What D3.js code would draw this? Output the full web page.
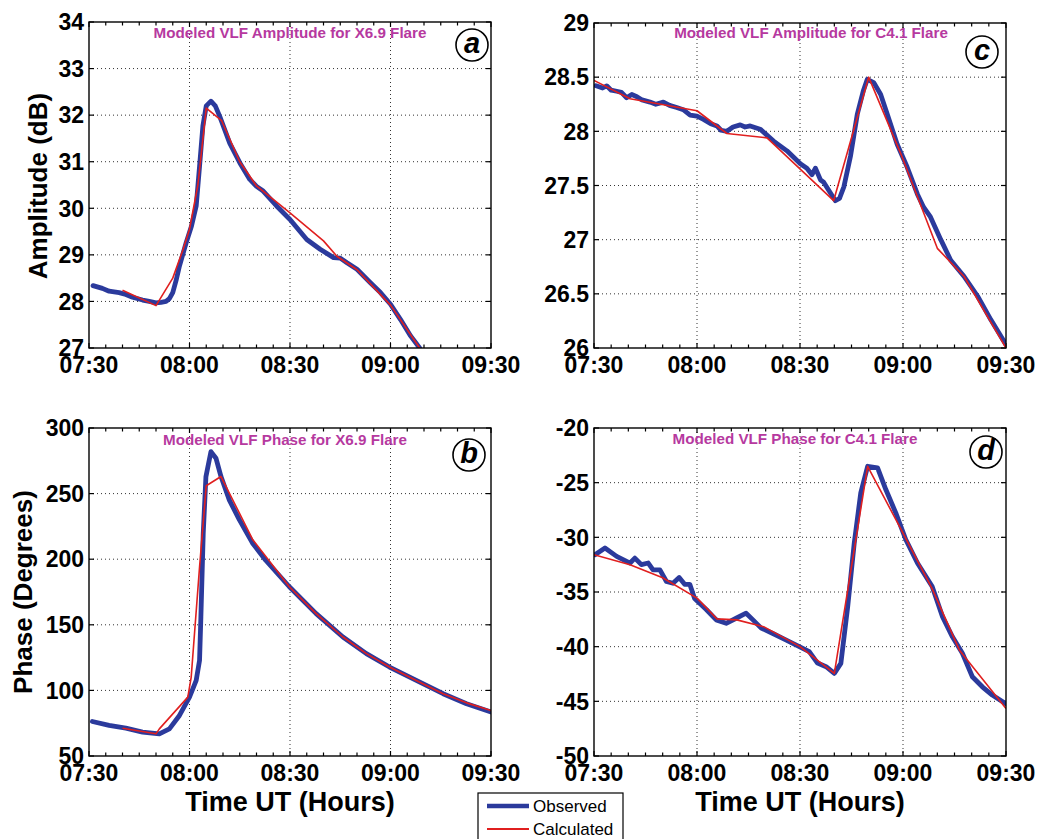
<!DOCTYPE html>
<html><head><meta charset="utf-8">
<script src="https://cdn.jsdelivr.net/npm/d3@7"></script>
<style>
html,body{margin:0;padding:0;background:#fff;}
svg{display:block;}
text{font-family:"Liberation Sans",Arial,sans-serif;}
</style></head>
<body><svg id="chart" width="1050" height="839"></svg>
<script>
// ---- Data (time in minutes after 07:30 UT) ----
const xTickValues = [0, 30, 60, 90, 120];
const xTickLabels = ["07:30", "08:00", "08:30", "09:00", "09:30"];

const ampXTicks = [27, 28, 29, 30, 31, 32, 33, 34];
const ampXTickLabels = ["27", "28", "29", "30", "31", "32", "33", "34"];
const phaseXTicks = [50, 100, 150, 200, 250, 300];
const phaseXTickLabels = ["50", "100", "150", "200", "250", "300"];
const ampCTicks = [26, 26.5, 27, 27.5, 28, 28.5, 29];
const ampCTickLabels = ["26", "26.5", "27", "27.5", "28", "28.5", "29"];
const phaseCTicks = [-50, -45, -40, -35, -30, -25, -20];
const phaseCTickLabels = ["-50", "-45", "-40", "-35", "-30", "-25", "-20"];

const obsAmpX = [[1.2,28.34],[4,28.28],[6,28.22],[8,28.2],[9,28.19],[11,28.15],[13,28.09],[16,28.03],[18,28.0],[20,27.97],[21.5,27.98],[23,28.0],[24,28.06],[25,28.19],[26,28.45],[27,28.76],[29,29.26],[30.6,29.62],[32,30.05],[33,30.9],[34,31.77],[35,32.2],[36.4,32.3],[37.7,32.2],[39,31.98],[42,31.4],[45,30.98],[48,30.62],[50,30.47],[52,30.37],[56,30.05],[60,29.76],[65,29.33],[69,29.12],[73,28.94],[75,28.93],[77,28.83],[80,28.69],[84,28.4],[87,28.19],[90,27.94],[93,27.61],[96,27.26],[98.7,27.0]];
const calcAmpX = [[10,28.24],[20,27.91],[25,28.5],[28,29.1],[30,29.55],[32.5,30.5],[35,32.15],[39.6,31.88],[45,31.0],[50,30.48],[60,29.9],[70,29.3],[74,28.97],[80,28.68],[90,27.92],[98.7,27.0]];

const obsPhaseX = [[1,76.3],[6,73.3],[11,71.2],[16,68.2],[21,66.9],[24,70.7],[27,80.9],[30,94.9],[32,107.6],[33,122.9],[33.4,156],[34.1,219.6],[34.9,262.8],[36.4,282],[37.9,277],[39.4,263],[41.9,245],[44.9,230],[48.9,212],[52.8,199],[59.8,179],[67.8,158.5],[75.8,140.7],[82.8,128],[89.7,117.8],[97.7,107.6],[105.7,97.5],[112.7,89.8],[120,83.5]];
const calcPhaseX = [[10,71.2],[20,66.9],[21,70.7],[29.5,94.9],[30.5,110],[33,194],[35,256],[39.4,263],[48.9,214.8],[59.8,179],[67.8,158.5],[75.8,140.7],[82.8,128],[89.7,117.8],[97.7,107.6],[105.7,97.5],[112.7,90.5],[120,84.7]];

const obsAmpC = [[0.6,28.42],[2.5,28.4],[3.7,28.42],[5,28.38],[6.6,28.37],[8,28.36],[9.5,28.31],[11,28.34],[12.5,28.32],[14,28.29],[16.3,28.27],[18,28.25],[20.2,28.27],[22,28.24],[24.1,28.22],[26,28.2],[28,28.15],[30,28.14],[31.9,28.11],[34,28.07],[35.8,28.05],[37,28.01],[38.7,28.0],[40.5,28.04],[42.6,28.06],[44,28.04],[45.5,28.05],[48.4,28.02],[52.3,27.91],[56.2,27.82],[60.1,27.7],[62,27.66],[63.5,27.6],[64.5,27.66],[66,27.55],[66.9,27.53],[68.5,27.45],[70.3,27.36],[71.5,27.38],[72.8,27.49],[74.7,27.77],[76.7,28.16],[78.5,28.38],[79.6,28.48],[81.5,28.45],[83.5,28.34],[85.4,28.16],[88.3,27.88],[91.2,27.67],[94.2,27.42],[96,27.3],[98,27.21],[101,27.0],[103.9,26.81],[107.8,26.66],[111.7,26.48],[115.6,26.26],[120,26.03]];
const calcAmpC = [[0,28.47],[10.5,28.3],[30,28.19],[38.7,27.98],[50.4,27.94],[69.8,27.36],[80,28.5],[89.4,27.79],[100,26.92],[107.8,26.66],[120,26.0]];

const obsPhaseC = [[0.3,-31.59],[3.2,-30.98],[6.6,-31.74],[10.5,-32.35],[11.9,-31.9],[13.8,-32.5],[15.8,-32.35],[17.2,-32.97],[19.2,-32.97],[21.1,-34.04],[23,-34.2],[24.8,-33.67],[26.4,-34.3],[27.9,-34.3],[29.3,-35.6],[32.7,-36.6],[35.6,-37.55],[38.5,-37.86],[41.4,-37.4],[44.3,-36.94],[46.3,-37.55],[48.7,-38.3],[52.1,-38.8],[56,-39.4],[59.8,-40.0],[62.7,-40.46],[65.1,-41.5],[67.6,-41.83],[70,-42.44],[71.9,-41.53],[73.9,-36.33],[75.8,-30.52],[77.7,-25.93],[79.7,-23.5],[82.6,-23.64],[85,-25.63],[87.9,-27.77],[90.8,-30.2],[94.2,-32.35],[98.5,-34.5],[101.5,-37.25],[104.4,-39.1],[107.3,-40.6],[110.2,-42.75],[113.1,-43.67],[116,-44.43],[119.8,-45.2]];
const calcPhaseC = [[0,-31.59],[10.5,-32.5],[20,-33.7],[30,-35.56],[35.8,-37.46],[41.6,-37.55],[49.4,-38.17],[60,-40.0],[70,-42.44],[79.7,-23.5],[88.7,-28.84],[98.4,-34.65],[106.4,-40.3],[120,-45.65]];

const subtitles = ["Modeled VLF Amplitude for X6.9 Flare", "Modeled VLF Phase for X6.9 Flare", "Modeled VLF Amplitude for C4.1 Flare", "Modeled VLF Phase for C4.1 Flare"];
const panelLetters = ["a", "b", "c", "d"];
const legendLabels = ["Observed", "Calculated"];

// ---- Layout ----
const svg = d3.select("#chart");
const OBS = "#2b3a9c", CALC = "#e01f1f", MAG = "#b6399f";

const panels = [
  {box:[89,491,22,348], dom:[27,34], ticks:ampXTicks, labels:ampXTickLabels, obs:obsAmpX, calc:calcAmpX, sub:subtitles[0], subX:290, subY:38, letter:panelLetters[0], lx:472, ly:45},
  {box:[89,491,428,756], dom:[50,300], ticks:phaseXTicks, labels:phaseXTickLabels, obs:obsPhaseX, calc:calcPhaseX, sub:subtitles[1], subX:285, subY:445, letter:panelLetters[1], lx:469, ly:455},
  {box:[594,1006,23,348], dom:[26,29], ticks:ampCTicks, labels:ampCTickLabels, obs:obsAmpC, calc:calcAmpC, sub:subtitles[2], subX:811, subY:38, letter:panelLetters[2], lx:982, ly:52},
  {box:[594,1006,428,756], dom:[-50,-20], ticks:phaseCTicks, labels:phaseCTickLabels, obs:obsPhaseC, calc:calcPhaseC, sub:subtitles[3], subX:795, subY:444, letter:panelLetters[3], lx:986, ly:452}
];

panels.forEach((p, i) => {
  const [L, R, T, B] = p.box;
  const x = d3.scaleLinear().domain([0, 120]).range([L, R]);
  const y = d3.scaleLinear().domain(p.dom).range([B, T]);
  const g = svg.append("g");

  // grid
  xTickValues.slice(1, -1).forEach(v => {
    g.append("line").attr("x1", x(v)).attr("x2", x(v)).attr("y1", T).attr("y2", B)
      .attr("stroke", "#333").attr("stroke-width", 1).attr("stroke-dasharray", "1,3");
  });
  p.ticks.slice(1, -1).forEach(v => {
    g.append("line").attr("x1", L).attr("x2", R).attr("y1", y(v)).attr("y2", y(v))
      .attr("stroke", "#333").attr("stroke-width", 1).attr("stroke-dasharray", "1,3");
  });

  // minor + major ticks on x (top and bottom, inward)
  d3.range(0, 121, 5).forEach(v => {
    const len = (v % 30 === 0) ? 5 : 3.5;
    g.append("line").attr("x1", x(v)).attr("x2", x(v)).attr("y1", B).attr("y2", B - len).attr("stroke", "#000").attr("stroke-width", 1.2);
    g.append("line").attr("x1", x(v)).attr("x2", x(v)).attr("y1", T).attr("y2", T + len).attr("stroke", "#000").attr("stroke-width", 1.2);
  });
  p.ticks.forEach(v => {
    g.append("line").attr("x1", L).attr("x2", L + 5).attr("y1", y(v)).attr("y2", y(v)).attr("stroke", "#000").attr("stroke-width", 1.2);
    g.append("line").attr("x1", R).attr("x2", R - 5).attr("y1", y(v)).attr("y2", y(v)).attr("stroke", "#000").attr("stroke-width", 1.2);
  });

  // clip
  const cid = "clip" + i;
  svg.append("clipPath").attr("id", cid).append("rect").attr("x", L).attr("y", T).attr("width", R - L).attr("height", B - T);

  const line = d3.line().x(d => x(d[0])).y(d => y(d[1]));
  const lg = g.append("g").attr("clip-path", `url(#${cid})`);
  lg.append("path").datum(p.obs).attr("d", line).attr("fill", "none").attr("stroke", OBS)
    .attr("stroke-width", 4.8).attr("stroke-linejoin", "round").attr("stroke-linecap", "round");
  lg.append("path").datum(p.calc).attr("d", line).attr("fill", "none").attr("stroke", CALC)
    .attr("stroke-width", 1.6).attr("stroke-linejoin", "round");

  // frame
  g.append("rect").attr("x", L).attr("y", T).attr("width", R - L).attr("height", B - T)
    .attr("fill", "none").attr("stroke", "#000").attr("stroke-width", 1.4);

  // tick labels
  p.ticks.forEach((v, k) => {
    g.append("text").attr("x", L - 5).attr("y", y(v)).attr("dy", "0.36em")
      .attr("text-anchor", "end").attr("font-size", 23).attr("font-weight", "bold").text(p.labels[k]);
  });
  xTickValues.forEach((v, k) => {
    g.append("text").attr("x", x(v)).attr("y", B + 25)
      .attr("text-anchor", "middle").attr("font-size", 23).attr("font-weight", "bold").text(xTickLabels[k]);
  });

  // subtitle
  g.append("text").attr("x", p.subX).attr("y", p.subY).attr("text-anchor", "middle")
    .attr("font-size", 15.2).attr("font-weight", "bold").attr("fill", MAG).text(p.sub);

  // panel letter
  g.append("circle").attr("cx", p.lx).attr("cy", p.ly).attr("r", 16).attr("fill", "#fff").attr("stroke", "#000").attr("stroke-width", 1.6);
  g.append("text").attr("x", p.lx).attr("y", p.ly + 8).attr("text-anchor", "middle")
    .attr("font-family", "'Liberation Serif','Times New Roman',serif").attr("font-style", "italic").attr("font-weight", "bold")
    .attr("font-size", 29).text(p.letter);
});

// axis titles
svg.append("text").attr("transform", "translate(47,186) rotate(-90)").attr("text-anchor", "middle")
  .attr("font-size", 26).attr("font-weight", "bold").text("Amplitude (dB)");
svg.append("text").attr("transform", "translate(32,592) rotate(-90)").attr("text-anchor", "middle")
  .attr("font-size", 26).attr("font-weight", "bold").text("Phase (Degrees)");
svg.append("text").attr("x", 290).attr("y", 811).attr("text-anchor", "middle")
  .attr("font-size", 27).attr("font-weight", "bold").text("Time UT (Hours)");
svg.append("text").attr("x", 800).attr("y", 811).attr("text-anchor", "middle")
  .attr("font-size", 27).attr("font-weight", "bold").text("Time UT (Hours)");

// legend
const leg = svg.append("g");
leg.append("rect").attr("x", 478).attr("y", 793).attr("width", 145).attr("height", 60)
  .attr("fill", "#fff").attr("stroke", "#000").attr("stroke-width", 1.2);
[[OBS, 4.5], [CALC, 1.8]].forEach((s, k) => {
  const yy = 806 + k * 23;
  leg.append("line").attr("x1", 487).attr("x2", 529).attr("y1", yy).attr("y2", yy).attr("stroke", s[0]).attr("stroke-width", s[1]);
  leg.append("text").attr("x", 533).attr("y", yy + 6).attr("font-size", 17).text(legendLabels[k]);
});
</script></body></html>
